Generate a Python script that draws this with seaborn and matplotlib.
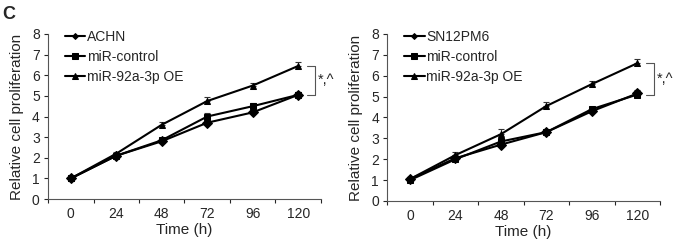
import numpy as np
import pandas as pd
import matplotlib
matplotlib.use("Agg")
import matplotlib.pyplot as plt
import seaborn as sns

times = ["0", "24", "48", "72", "96", "120"]

# left panel (ACHN)
achn = [1.0, 2.1, 2.8, 3.7, 4.2, 5.05]
achn_ctrl = [1.0, 2.1, 2.85, 4.0, 4.5, 5.05]
achn_oe = [1.0, 2.2, 3.6, 4.75, 5.5, 6.45]
achn_err = [0.12, 0.1, 0.1, 0.1, 0.1, 0.12]
achn_ctrl_err = [0.1, 0.1, 0.1, 0.15, 0.15, 0.12]
achn_oe_err = [0.1, 0.1, 0.15, 0.18, 0.12, 0.18]

# right panel (SN12PM6)
sn = [1.05, 2.05, 2.7, 3.3, 4.3, 5.15]
sn_ctrl = [1.0, 2.0, 2.85, 3.3, 4.4, 5.1]
sn_oe = [1.05, 2.2, 3.2, 4.55, 5.6, 6.6]
sn_err = [0.1, 0.1, 0.1, 0.1, 0.1, 0.15]
sn_ctrl_err = [0.12, 0.1, 0.12, 0.12, 0.12, 0.12]
sn_oe_err = [0.1, 0.15, 0.25, 0.2, 0.15, 0.2]

sns.set_style("white")
plt.rcParams["font.family"] = ["Liberation Sans", "DejaVu Sans"]

fig = plt.figure(figsize=(6.77, 2.41), dpi=100)
ax1 = fig.add_axes([0.071, 0.174, 0.403, 0.685])
ax2 = fig.add_axes([0.572, 0.166, 0.403, 0.693])

markers = {"line": "D", "ctrl": "s", "oe": "^"}
msizes = {"line": 3.5, "ctrl": 5.5, "oe": 5.5}


def panel(ax, name, series, errs):
    labels = [name, "miR-control", "miR-92a-3p OE"]
    keys = ["line", "ctrl", "oe"]
    rows = []
    for lab, vals in zip(labels, series):
        for t, v in zip(times, vals):
            rows.append({"Time": t, "val": v, "group": lab})
    df = pd.DataFrame(rows)
    x = np.arange(len(times))
    for lab, k, vals, e in zip(labels, keys, series, errs):
        ax.errorbar(x, vals, yerr=[np.zeros(len(e)), e], fmt="none",
                    ecolor="#333333", elinewidth=0.8, capsize=2, capthick=0.8, zorder=1)
    sns.lineplot(data=df, x="Time", y="val", hue="group", style="group",
                 markers=[markers[k] for k in keys], dashes=False,
                 palette=["black"] * 3, ax=ax, linewidth=1.5,
                 markersize=5, markeredgecolor="black", zorder=3)
    for line, k in zip(ax.lines[-3:], keys):
        line.set_markersize(msizes[k])
    ax.set_xlim(-0.5, 5.5)
    ax.set_ylim(0, 8)
    ax.set_yticks(range(0, 9))
    ax.set_xticks(x)
    ax.set_xticklabels(times)
    ax.set_xticks(np.arange(-0.5, 6.0, 1.0), minor=True)
    ax.tick_params(axis="x", which="major", length=0, labelsize=10, pad=6)
    ax.tick_params(axis="x", which="minor", length=3, width=0.8, direction="out", bottom=True)
    ax.tick_params(axis="y", length=3, width=0.8, direction="out", left=True, labelsize=10, pad=3)
    for s in ["top", "right"]:
        ax.spines[s].set_visible(False)
    for s in ["left", "bottom"]:
        ax.spines[s].set_color("#555555")
        ax.spines[s].set_linewidth(0.8)
    ax.set_xlabel("Time (h)", fontsize=11, labelpad=1)
    ax.set_ylabel("Relative cell proliferation", fontsize=11, labelpad=6)
    leg = ax.legend(loc="upper left", bbox_to_anchor=(0.04, 1.06), frameon=False,
                    fontsize=10, handlelength=1.5, handletextpad=0.1, labelspacing=0.45,
                    borderaxespad=0)
    for h, k in zip(leg.legend_handles, keys):
        h.set_markersize(msizes[k] - 0.5)
    # significance bracket
    top = series[2][-1]
    bot = series[1][-1]
    xb = 5.36
    ax.plot([5.2, xb, xb, 5.2], [top, top, bot, bot], color="#555555", lw=0.8,
            clip_on=False)
    ax.text(xb + 0.07, (top + bot) / 2, "*,^", ha="left", va="center",
            fontsize=10.5)


panel(ax1, "ACHN", [achn, achn_ctrl, achn_oe], [achn_err, achn_ctrl_err, achn_oe_err])
panel(ax2, "SN12PM6", [sn, sn_ctrl, sn_oe], [sn_err, sn_ctrl_err, sn_oe_err])

fig.text(0.004, 0.975, "C", fontsize=13, fontweight="bold", ha="left", va="top")

fig.savefig("out.png", dpi=100)
